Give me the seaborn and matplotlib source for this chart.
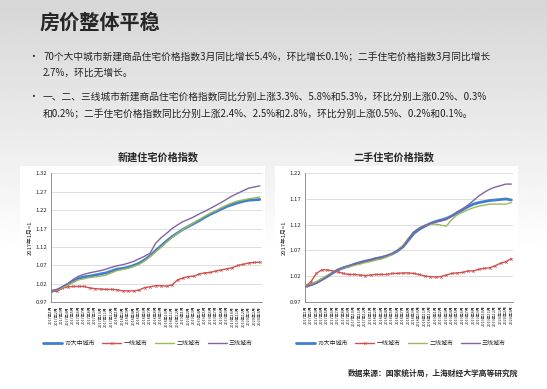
import numpy as np
import pandas as pd
import seaborn as sns
import matplotlib.pyplot as plt
from matplotlib.patches import Rectangle

sns.set_style("white")
plt.rcParams['font.family'] = ['Noto Sans CJK SC', 'DejaVu Sans']

# months 2017-01 .. 2020-03
months = [f"{y}年{m}月" for y in (2017, 2018, 2019) for m in range(1, 13)] + \
         [f"2020年{m}月" for m in (1, 2, 3)]
series_names = ["70大中城市", "一线城市", "二线城市", "三线城市"]
colors = ["#3f7fd0", "#d0504d", "#9bbb59", "#8064a2"]

# 新建住宅价格指数
new_70 = [1.000, 1.003, 1.010, 1.018, 1.027, 1.035, 1.039, 1.041, 1.044, 1.047,
          1.050, 1.055, 1.060, 1.062, 1.065, 1.070, 1.076, 1.085, 1.096, 1.110,
          1.123, 1.136, 1.148, 1.158, 1.168, 1.176, 1.184, 1.192, 1.201, 1.209,
          1.216, 1.223, 1.230, 1.235, 1.240, 1.244, 1.247, 1.248, 1.249]
new_t1 = [1.000, 1.000, 1.008, 1.012, 1.013, 1.013, 1.013, 1.009, 1.007, 1.006,
          1.005, 1.005, 1.004, 1.001, 1.001, 1.001, 1.003, 1.010, 1.012, 1.015,
          1.015, 1.014, 1.017, 1.031, 1.036, 1.040, 1.041, 1.047, 1.050, 1.051,
          1.055, 1.058, 1.061, 1.064, 1.070, 1.073, 1.077, 1.078, 1.079]
new_t2 = [1.000, 1.003, 1.009, 1.016, 1.024, 1.031, 1.034, 1.037, 1.039, 1.041,
          1.044, 1.050, 1.056, 1.059, 1.062, 1.067, 1.073, 1.082, 1.094, 1.107,
          1.119, 1.133, 1.146, 1.157, 1.168, 1.177, 1.186, 1.195, 1.204, 1.212,
          1.219, 1.227, 1.234, 1.240, 1.245, 1.248, 1.251, 1.253, 1.256]
new_t3 = [1.000, 1.004, 1.012, 1.021, 1.032, 1.041, 1.046, 1.050, 1.053, 1.056,
          1.060, 1.065, 1.069, 1.072, 1.076, 1.081, 1.088, 1.095, 1.103, 1.130,
          1.145, 1.157, 1.170, 1.180, 1.189, 1.195, 1.202, 1.210, 1.217, 1.225,
          1.233, 1.241, 1.250, 1.259, 1.266, 1.273, 1.280, 1.283, 1.286]

# 二手住宅价格指数
old_70 = [1.000, 1.003, 1.007, 1.013, 1.019, 1.026, 1.032, 1.036, 1.039, 1.043,
          1.046, 1.049, 1.051, 1.054, 1.056, 1.059, 1.063, 1.069, 1.077, 1.090,
          1.103, 1.111, 1.117, 1.122, 1.126, 1.129, 1.132, 1.137, 1.143, 1.149,
          1.155, 1.160, 1.163, 1.165, 1.167, 1.168, 1.169, 1.170, 1.168]
old_t1 = [1.000, 1.009, 1.025, 1.032, 1.032, 1.030, 1.028, 1.025, 1.023, 1.023,
          1.022, 1.021, 1.022, 1.023, 1.023, 1.023, 1.025, 1.025, 1.026, 1.026,
          1.025, 1.023, 1.020, 1.019, 1.018, 1.019, 1.022, 1.025, 1.026, 1.027,
          1.030, 1.030, 1.033, 1.035, 1.036, 1.040, 1.045, 1.048, 1.054]
old_t2 = [1.000, 1.004, 1.009, 1.015, 1.021, 1.027, 1.032, 1.036, 1.038, 1.041,
          1.043, 1.046, 1.048, 1.051, 1.053, 1.057, 1.063, 1.071, 1.080, 1.094,
          1.106, 1.114, 1.119, 1.121, 1.121, 1.119, 1.117, 1.130, 1.139, 1.144,
          1.149, 1.153, 1.156, 1.158, 1.160, 1.160, 1.160, 1.160, 1.163]
old_t3 = [1.000, 1.002, 1.006, 1.012, 1.019, 1.026, 1.032, 1.037, 1.040, 1.043,
          1.046, 1.049, 1.052, 1.055, 1.057, 1.060, 1.064, 1.070, 1.077, 1.092,
          1.106, 1.113, 1.118, 1.122, 1.125, 1.127, 1.130, 1.137, 1.145, 1.151,
          1.158, 1.167, 1.176, 1.183, 1.189, 1.193, 1.196, 1.199, 1.199]


def make_df(vals):
    rows = []
    for name, v in zip(series_names, vals):
        for i, y in enumerate(v):
            rows.append({"idx": i, "value": y, "城市": name})
    return pd.DataFrame(rows)


fig = plt.figure(figsize=(5.47, 3.89), dpi=100)

# slide background gradient
bg = fig.add_axes([0, 0, 1, 1], zorder=-10)
grad = np.linspace(0, 1, 200).reshape(-1, 1)
grad = np.clip((grad - 0.35) / 0.65, 0, 1)
bg.imshow(1 - 0.16 * grad[::-1], aspect="auto", cmap="gray", vmin=0, vmax=1,
          extent=[0, 1, 0, 1])
bg.axis("off")

# white chart panels
for x0, w in ((20, 245), (275, 243)):
    fig.patches.append(Rectangle((x0 / 547, 1 - 348 / 389), w / 547, 182 / 389,
                                 transform=fig.transFigure, facecolor="white",
                                 edgecolor="none", zorder=-5))

fig.text(40 / 547, 1 - 22 / 389, "房价整体平稳", fontsize=14.5, fontweight="bold",
         va="center", ha="left")
bullets = [
    (57, "70个大中城市新建商品住宅价格指数3月同比增长5.4%，环比增长0.1%；二手住宅价格指数3月同比增长"),
    (73, "2.7%，环比无增长。"),
    (97, "一、二、三线城市新建商品住宅价格指数同比分别上涨3.3%、5.8%和5.3%，环比分别上涨0.2%、0.3%"),
    (114, "和0.2%；二手住宅价格指数同比分别上涨2.4%、2.5%和2.8%，环比分别上涨0.5%、0.2%和0.1%。"),
]
for y, t in bullets:
    fig.text(43 / 547, 1 - y / 389, t, fontsize=7.0, va="center", ha="left", color="#222222")
for y in (57, 97):
    fig.text(28 / 547, 1 - y / 389, "•", fontsize=7, va="center", ha="left")

fig.text(158 / 547, 1 - 157 / 389, "新建住宅价格指数", fontsize=7.3, fontweight="bold",
         ha="center", va="center")
fig.text(394 / 547, 1 - 157 / 389, "二手住宅价格指数", fontsize=7.3, fontweight="bold",
         ha="center", va="center")
fig.text(518 / 547, 1 - 373 / 389, "数据来源：国家统计局，上海财经大学高等研究院",
         fontsize=5.6, fontweight="bold", ha="right", va="center")

specs = [
    ([new_70, new_t1, new_t2, new_t3], [50.7, 173.3, 261.5, 302.3],
     np.arange(0.97, 1.33, 0.05), (0.97, 1.32), 148),
    ([old_70, old_t1, old_t2, old_t3], [305.0, 173.3, 513.0, 301.7],
     np.arange(0.97, 1.23, 0.05), (0.97, 1.22), 401),
]

for vals, (x0, y0, x1, y1), yticks, ylim, legx in specs:
    ax = fig.add_axes([x0 / 547, 1 - y1 / 389, (x1 - x0) / 547, (y1 - y0) / 389])
    df = make_df(vals)
    for name, c in zip(series_names, colors):
        sub = df[df["城市"] == name]
        lw = 2.0 if name == "70大中城市" else 1.0
        mk = "x" if name == "一线城市" else None
        sns.lineplot(data=sub, x="idx", y="value", ax=ax, color=c, linewidth=lw,
                     marker=mk, markersize=1.7, markeredgewidth=0.5,
                     markeredgecolor=c, label=name, legend=False)
    ax.set_xlim(-0.1, 38.3)
    ax.set_ylim(*ylim)
    ax.set_yticks(yticks)
    ax.set_yticklabels([f"{v:.2f}" for v in yticks], fontsize=4.3)
    ax.set_xticks(range(len(months)))
    ax.set_xticklabels(months, rotation=90, fontsize=2.8)
    ax.yaxis.grid(True, color="#d9d9d9", linewidth=0.6)
    ax.set_axisbelow(True)
    ax.set_xlabel("")
    ax.set_ylabel("2017年1月=1", fontsize=4.2, labelpad=2)
    for s in ("top", "right"):
        ax.spines[s].set_visible(False)
    for s in ("left", "bottom"):
        ax.spines[s].set_color("#808080")
        ax.spines[s].set_linewidth(0.6)
    ax.tick_params(axis="both", length=1.5, width=0.4, color="#808080", pad=1)
    ax.set_facecolor("white")
    handles, labels = ax.get_legend_handles_labels()
    fig.legend(handles, labels, loc="center", bbox_to_anchor=(legx / 547, 1 - 343 / 389),
               ncol=4, frameon=False, fontsize=4.3, handlelength=3.2, columnspacing=1.2,
               handletextpad=0.4)

fig.savefig("out.png", dpi=100)
